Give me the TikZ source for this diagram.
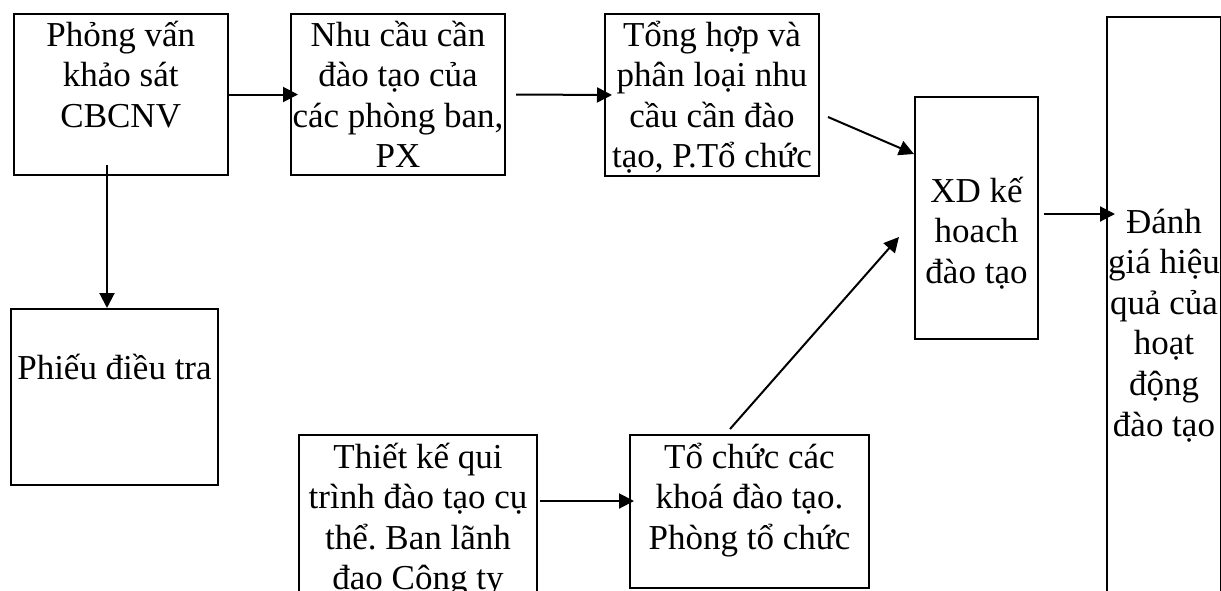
\documentclass[tikz,border=0pt]{standalone}
\usepackage{fontspec}
\setmainfont{Liberation Serif}
\usetikzlibrary{arrows.meta,calc}
\frenchspacing
\newcommand{\btext}[4]{\parbox[t][#2][t]{#1}{\lineskiplimit=-100pt\relax\centering\rule{0pt}{#3}#4\par}}
\tikzset{
  box/.style={draw, line width=2pt, inner sep=0pt, anchor=north west,
    font=\fontsize{35}{40.6}\selectfont},
  arr/.style={line width=2pt, -{Triangle[length=15pt,width=15pt]}},
}
\begin{document}
\begin{tikzpicture}[x=1pt,y=-1pt]
\fill[white] (0,0) rectangle (1221,590);
\useasboundingbox (0,0) rectangle (1221,590);
\clip (0,0) rectangle (1221,590);
\node[box] (A) at (12.5,13) {\btext{214.5pt}{161pt}{32pt}{Phỏng vấn\\khảo sát\\CBCNV}};
\node[box] (B) at (290,13) {\btext{214pt}{161pt}{32pt}{Nhu cầu cần\\đào tạo của\\các phòng ban,\\PX}};
\node[box] (C) at (604,13) {\btext{214pt}{162pt}{32pt}{Tổng hợp và\\phân loại nhu\\cầu cần đào\\tạo, P.Tổ chức}};
\node[box] (D) at (914,96) {\btext{123pt}{242pt}{105pt}{XD kế\\hoach\\đào tạo}};
\node[box] (E) at (1106,16) {\btext{114pt}{620pt}{216pt}{Đánh\\giá hiệu\\quả của\\hoạt\\động\\đào tạo}};
\node[box] (F) at (10,308) {\btext{207pt}{176pt}{70pt}{Phiếu điều tra}};
\node[box] (G) at (298,434) {\btext{238pt}{200pt}{33pt}{Thiết kế qui\\trình đào tạo cụ\\thể. Ban lãnh\\đạo Công ty}};
\node[box] (H) at (629,434) {\btext{239pt}{153pt}{33pt}{Tổ chức các\\khoá đào tạo.\\Phòng tổ chức}};
\coordinate (a1) at ($(A.south west)+(94.5,-11)$);
\draw[arr] (A.east) -- ([xshift=8pt]B.west);
\draw[arr] ([xshift=10pt]B.east) -- ([xshift=8pt]C.west);
\draw[arr] ([xshift=8pt,yshift=-22pt]C.east) -- ([yshift=-58pt]D.north west);
\draw[arr] ($(D.east)+(5,-4)$) -- ($(D.east -| E.west)+(9,-4)$);
\draw[arr] ($(H.north west)+(101,-5)$) -- ($(D.north west)+(-15,141)$);
\draw[arr] ($(G.north east)+(2,67)$) -- ($(H.north west)+(5,67)$);
\draw[arr] (a1) -- (a1 |- F.north);
\end{tikzpicture}
\end{document}
